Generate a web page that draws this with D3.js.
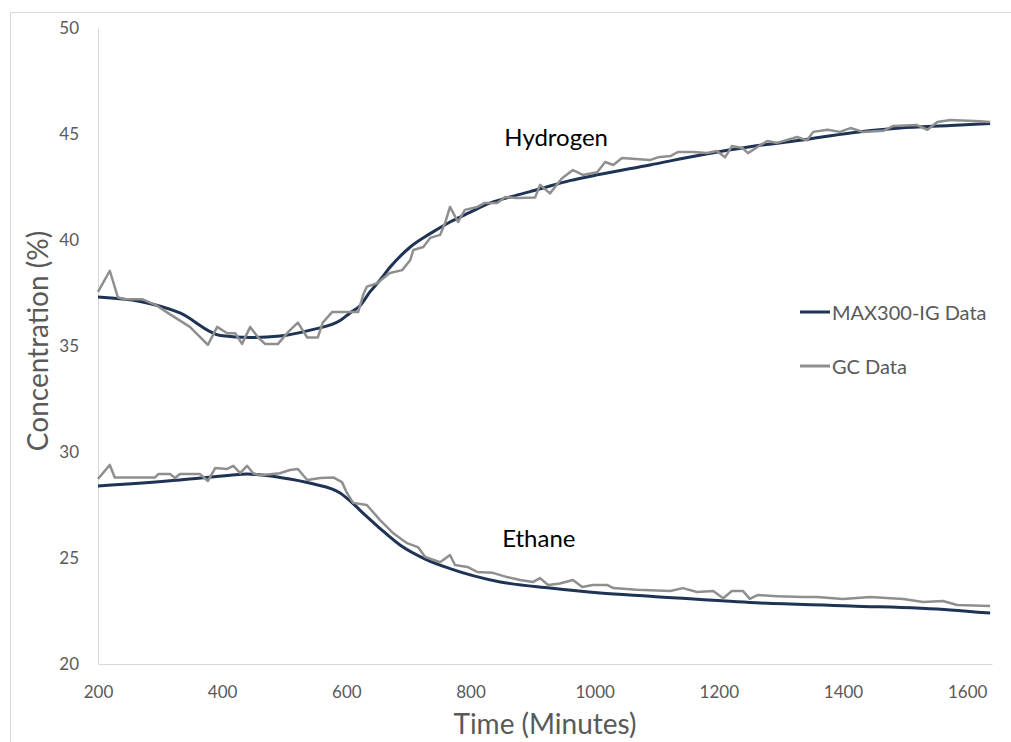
<!DOCTYPE html>
<html>
<head>
<meta charset="utf-8">
<script src="https://cdn.jsdelivr.net/npm/d3@7"></script>
<style>
  html, body { margin: 0; padding: 0; background: #fff; }
  svg { display: block; }
  text { font-family: Lato, "Open Sans", sans-serif; }
</style>
</head>
<body>
<svg id="chart" width="1011" height="742"></svg>
<script>
// ---- Data ----
const xTicks = [200, 400, 600, 800, 1000, 1200, 1400, 1600];
const yTicks = [20, 25, 30, 35, 40, 45, 50];

// MAX300-IG Data, Hydrogen: [time, concentration]
const maxHydrogen = [
  [200, 37.31], [268, 37.1], [332, 36.56], [397, 35.5], [445, 35.4], [493, 35.47],
  [542, 35.75], [590, 36.2], [606, 36.56], [622, 36.9], [638, 37.55], [654, 38.1],
  [670, 38.7], [703, 39.67], [735, 40.3], [767, 40.85], [799, 41.3], [832, 41.75],
  [864, 42.03], [896, 42.28], [928, 42.55], [960, 42.8], [1009, 43.1], [1089, 43.54],
  [1169, 44.0], [1250, 44.4], [1331, 44.7], [1412, 45.05], [1492, 45.28], [1573, 45.4],
  [1637, 45.5]
];
// MAX300-IG Data, Ethane
const maxEthane = [
  [200, 28.4], [332, 28.68], [413, 28.9], [440, 28.96], [493, 28.8], [546, 28.5],
  [590, 28.07], [606, 27.7], [630, 27.03], [654, 26.4], [687, 25.6], [727, 24.95],
  [767, 24.5], [848, 23.87], [928, 23.58], [1009, 23.35], [1089, 23.2], [1250, 22.9],
  [1412, 22.74], [1573, 22.55], [1637, 22.4]
];
// GC Data, Hydrogen
const gcHydrogen = [
  [200, 37.55], [219, 38.55], [232, 37.3], [243, 37.2], [272, 37.2], [295, 36.9],
  [313, 36.55], [348, 35.9], [377, 35.05], [392, 35.9], [408, 35.6], [421, 35.6],
  [432, 35.1], [445, 35.9], [458, 35.4], [469, 35.1], [490, 35.1], [506, 35.65],
  [522, 36.1], [537, 35.4], [554, 35.4], [562, 36.1], [577, 36.6], [619, 36.6],
  [627, 37.4], [633, 37.8], [649, 37.95], [670, 38.44], [690, 38.58], [703, 39.06],
  [708, 39.53], [724, 39.67], [735, 40.1], [751, 40.24], [759, 40.8], [767, 41.56],
  [780, 40.85], [791, 41.42], [811, 41.56], [823, 41.75], [843, 41.75], [856, 42.03],
  [875, 41.98], [904, 42.0], [912, 42.6], [928, 42.2], [947, 42.9], [965, 43.3],
  [981, 43.07], [1004, 43.2], [1017, 43.68], [1030, 43.54], [1044, 43.87], [1089, 43.77],
  [1102, 43.9], [1122, 43.96], [1134, 44.15], [1159, 44.15], [1181, 44.1], [1197, 44.2],
  [1210, 43.9], [1221, 44.43], [1238, 44.34], [1247, 44.1], [1267, 44.48], [1278, 44.67],
  [1294, 44.58], [1326, 44.86], [1342, 44.7], [1352, 45.1], [1375, 45.2], [1395, 45.1],
  [1412, 45.28], [1432, 45.1], [1465, 45.15], [1481, 45.38], [1519, 45.42], [1536, 45.2],
  [1552, 45.57], [1573, 45.66], [1621, 45.6], [1637, 45.57]
];
// GC Data, Ethane
const gcEthane = [
  [200, 28.73], [219, 29.39], [227, 28.8], [292, 28.8], [297, 28.96], [316, 28.96],
  [324, 28.77], [332, 28.96], [364, 28.96], [377, 28.63], [389, 29.25], [408, 29.2],
  [418, 29.35], [429, 29.0], [440, 29.35], [450, 29.0], [461, 28.9], [493, 29.0],
  [509, 29.15], [522, 29.2], [537, 28.68], [558, 28.77], [579, 28.8], [593, 28.58],
  [601, 28.07], [611, 27.6], [633, 27.5], [654, 26.8], [675, 26.18], [698, 25.7],
  [716, 25.5], [727, 25.05], [751, 24.8], [767, 25.14], [775, 24.67], [795, 24.58],
  [811, 24.34], [836, 24.3], [859, 24.1], [880, 23.96], [901, 23.87], [912, 24.05],
  [925, 23.73], [944, 23.8], [965, 23.96], [980, 23.63], [997, 23.73], [1020, 23.73],
  [1030, 23.58], [1068, 23.5], [1122, 23.44], [1142, 23.58], [1165, 23.4], [1191, 23.44],
  [1207, 23.1], [1221, 23.44], [1239, 23.44], [1250, 23.07], [1262, 23.25], [1294, 23.2],
  [1336, 23.16], [1358, 23.16], [1400, 23.07], [1444, 23.16], [1497, 23.07], [1529, 22.92],
  [1561, 22.97], [1584, 22.78], [1637, 22.74]
];

const seriesNames = ["MAX300-IG Data", "GC Data"];
const seriesColors = ["#1f3354", "#8f8f8f"];
const gasLabels = [["Hydrogen", 938, 44.86], ["Ethane", 910, 25.99]];

// ---- Layout ----
const svg = d3.select("#chart");
const margin = { left: 98, top: 28, right: 992, bottom: 664 };

const x = d3.scaleLinear().domain([200, 1640]).range([margin.left, margin.right]);
const y = d3.scaleLinear().domain([20, 50]).range([margin.bottom, margin.top]);

// outer frame
svg.append("rect")
  .attr("x", 10.5).attr("y", 12.5)
  .attr("width", 1010).attr("height", 740)
  .attr("fill", "none").attr("stroke", "#d9d9d9").attr("stroke-width", 1);

// axes
const xAxis = svg.append("g")
  .attr("transform", `translate(0,${margin.bottom})`)
  .call(d3.axisBottom(x).tickValues(xTicks).tickSize(0).tickPadding(22).tickFormat(d3.format("d")));
const yAxis = svg.append("g")
  .attr("transform", `translate(${margin.left},0)`)
  .call(d3.axisLeft(y).tickValues(yTicks).tickSize(0).tickPadding(19).tickFormat(d3.format("d")));

[xAxis, yAxis].forEach(g => {
  g.select(".domain").attr("stroke", "#d9d9d9").attr("stroke-width", 1);
  g.selectAll("text").attr("fill", "#595959").style("font-size", "17px")
    .style("font-family", "Lato, 'Open Sans', sans-serif");
});

// axis titles
svg.append("text")
  .attr("x", 545).attr("y", 734)
  .attr("text-anchor", "middle")
  .attr("fill", "#595959").style("font-size", "28px")
  .text("Time (Minutes)");
svg.append("text")
  .attr("transform", "translate(48,341) rotate(-90)")
  .attr("text-anchor", "middle")
  .attr("fill", "#595959").style("font-size", "28px")
  .text("Concentration (%)");

// lines
const line = d3.line().x(d => x(d[0])).y(d => y(d[1]));
const plot = svg.append("g");
[maxHydrogen, maxEthane].forEach(s => {
  plot.append("path").datum(s)
    .attr("d", line.curve(d3.curveMonotoneX))
    .attr("fill", "none").attr("stroke", seriesColors[0])
    .attr("stroke-width", 3).attr("stroke-linejoin", "round");
});
[gcHydrogen, gcEthane].forEach(s => {
  plot.append("path").datum(s)
    .attr("d", line.curve(d3.curveLinear))
    .attr("fill", "none").attr("stroke", seriesColors[1])
    .attr("stroke-width", 2.5).attr("stroke-linejoin", "round");
});

// gas labels
gasLabels.forEach(([t, tx, ty]) => {
  svg.append("text")
    .attr("x", x(tx)).attr("y", y(ty))
    .attr("text-anchor", "middle").attr("dominant-baseline", "central")
    .attr("fill", "#000").style("font-size", "24px")
    .text(t);
});

// legend
const legendY = [312, 366];
seriesNames.forEach((n, i) => {
  svg.append("line")
    .attr("x1", 800).attr("x2", 830)
    .attr("y1", legendY[i]).attr("y2", legendY[i])
    .attr("stroke", seriesColors[i]).attr("stroke-width", 3);
  svg.append("text")
    .attr("x", 832).attr("y", legendY[i])
    .attr("dominant-baseline", "central")
    .attr("fill", "#595959").style("font-size", "20px")
    .text(n);
});
</script>
</body>
</html>
